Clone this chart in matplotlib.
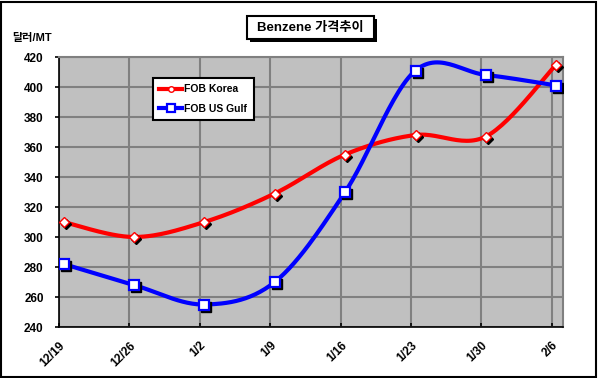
import numpy as np
import matplotlib
matplotlib.use("Agg")
import matplotlib.pyplot as plt
import matplotlib.transforms as mtransforms
from matplotlib.patches import Rectangle
from matplotlib.lines import Line2D

plt.rcParams['font.family'] = ['Liberation Sans', 'Noto Sans CJK KR', 'DejaVu Sans']

# data
dates = ['12/19', '12/26', '1/2', '1/9', '1/16', '1/23', '1/30', '2/6']
fob_korea = [310, 300, 310, 329, 355, 368, 367, 415]
fob_us_gulf = [282, 268, 255, 270, 330, 411, 408, 401]
yticks = [240, 260, 280, 300, 320, 340, 360, 380, 400, 420]


def smooth(x, y, n=30):
    # Excel-style smoothing: Bezier with Catmull-Rom tangents
    x = np.asarray(x, float)
    y = np.asarray(y, float)
    px = np.concatenate([[x[0]], x, [x[-1]]])
    py = np.concatenate([[y[0]], y, [y[-1]]])
    xs, ys = [], []
    t = np.linspace(0, 1, n)
    for i in range(1, len(px) - 2):
        p0 = np.array([px[i], py[i]])
        p3 = np.array([px[i + 1], py[i + 1]])
        p1 = p0 + (np.array([px[i + 1], py[i + 1]]) - np.array([px[i - 1], py[i - 1]])) / 6
        p2 = p3 - (np.array([px[i + 2], py[i + 2]]) - np.array([px[i], py[i]])) / 6
        b = (np.outer((1 - t) ** 3, p0) + np.outer(3 * (1 - t) ** 2 * t, p1)
             + np.outer(3 * (1 - t) * t ** 2, p2) + np.outer(t ** 3, p3))
        xs.extend(b[:, 0])
        ys.extend(b[:, 1])
    return np.array(xs), np.array(ys)


fig = plt.figure(figsize=(5.98, 3.78), dpi=100)
ax = fig.add_axes([59 / 598, 1 - 327 / 378, (563 - 59) / 598, (327 - 57) / 378])
ax.set_facecolor('#C0C0C0')

x = np.arange(len(dates))
xp = x + 0.065  # excel draws the points a few pixels right of the tick
ax.set_xlim(0, 7.16)
ax.set_ylim(240, 420)
ax.set_yticks(yticks)
ax.set_xticks(x)
ax.set_xticklabels(dates, rotation=45, ha='right', rotation_mode='anchor',
                   fontsize=8.5, fontweight='bold')
ax.set_yticklabels([str(v) for v in yticks], fontsize=8.5, fontweight='bold')
ax.grid(True, color='#808080', linewidth=1.5)
ax.set_axisbelow(True)
ax.tick_params(axis='x', direction='in', length=3, width=1.2, pad=9)
ax.tick_params(axis='y', direction='out', length=3, width=1.2, pad=8)
for s in ['top', 'right']:
    ax.spines[s].set_color('#808080')
    ax.spines[s].set_linewidth(1.5)
for s in ['left', 'bottom']:
    ax.spines[s].set_color('black')
    ax.spines[s].set_linewidth(1.2)

shadow = mtransforms.offset_copy(ax.transData, fig=fig, x=2, y=-2, units='dots')

sx, sy = smooth(xp, fob_korea)
ax.plot(sx, sy, color='red', lw=3, zorder=3)
ax.plot(xp, fob_korea, ls='none', marker='D', ms=5.5, color='black', transform=shadow, zorder=4)
ax.plot(xp, fob_korea, ls='none', marker='D', ms=5.5, mfc='white', mec='red', mew=1, zorder=5)

sx, sy = smooth(xp, fob_us_gulf)
ax.plot(sx, sy, color='blue', lw=3, zorder=3)
ax.plot(xp, fob_us_gulf, ls='none', marker='s', ms=6.5, color='black', transform=shadow, zorder=4)
ax.plot(xp, fob_us_gulf, ls='none', marker='s', ms=6.5, mfc='white', mec='blue', mew=1.6, zorder=5)

# legend
h1 = Line2D([], [], color='red', lw=3, marker='o', ms=4, mfc='white', mec='red')
h2 = Line2D([], [], color='blue', lw=3, marker='s', ms=5.5, mfc='white', mec='blue', mew=1.6)
leg = ax.legend([h1, h2], ['FOB Korea', 'FOB US Gulf'], loc='upper left',
                bbox_to_anchor=((148 - 59) / 504, 1 - (73 - 57) / 270),
                fancybox=False, framealpha=1, edgecolor='black',
                prop={'size': 7.5, 'weight': 'bold'}, handlelength=2.2,
                handletextpad=0.2, borderpad=0.6, labelspacing=0.9)
leg.get_frame().set_linewidth(1.5)

# title box with shadow
fig.patches.append(Rectangle((250 / 598, 1 - 42 / 378), 127 / 598, 23 / 378,
                             transform=fig.transFigure, facecolor='black', zorder=1))
fig.patches.append(Rectangle((247 / 598, 1 - 39 / 378), 127 / 598, 23 / 378,
                             transform=fig.transFigure, facecolor='white',
                             edgecolor='black', lw=1.5, zorder=2))
fig.text(310.5 / 598, 1 - 28 / 378, 'Benzene 가격추이', ha='center', va='center',
         fontsize=9.5, fontweight='bold', zorder=3)

fig.text(12 / 598, 1 - 38 / 378, '달러/MT', ha='left', va='center',
         fontsize=8, fontweight='bold')

# outer border
fig.patches.append(Rectangle((1 / 598, 1 / 378), 595 / 598, 375 / 378,
                             transform=fig.transFigure, fill=False,
                             edgecolor='black', lw=1.5))

fig.savefig('out.png', dpi=100)
